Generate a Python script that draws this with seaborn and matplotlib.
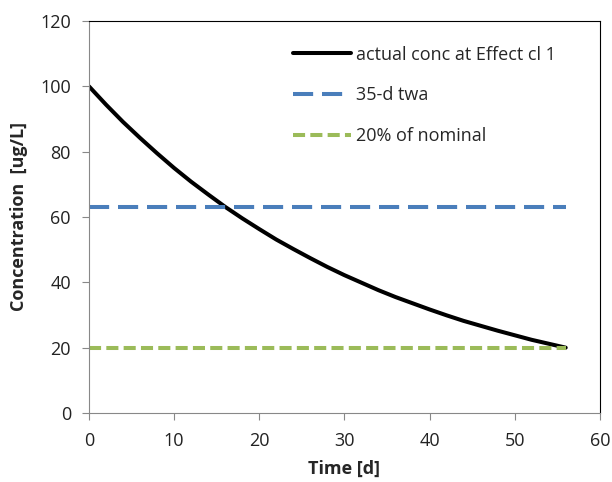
import matplotlib
matplotlib.use("Agg")
import matplotlib.pyplot as plt
import seaborn as sns
import pandas as pd

days = [0, 2, 4, 6, 8, 10, 12, 14, 16, 18, 20, 22, 24, 26, 28, 30, 32, 34, 36,
        38, 40, 42, 44, 46, 48, 50, 52, 54, 56]
conc = [100.0, 94.4, 89.1, 84.2, 79.5, 75.0, 70.8, 66.9, 63.1, 59.6, 56.3, 53.1,
        50.2, 47.4, 44.7, 42.2, 39.9, 37.6, 35.5, 33.6, 31.7, 29.9, 28.2, 26.7,
        25.2, 23.8, 22.4, 21.2, 20.0]
twa_days = [0, 56]
twa_value = [63.0, 63.0]
nominal20_days = [0, 56]
nominal20_value = [20.0, 20.0]

sns.set_style("white")
plt.rcParams['font.family'] = ['Open Sans', 'DejaVu Sans']

fig = plt.figure(figsize=(6.12, 4.82), dpi=100)
ax = fig.add_axes([0.1454, 0.1432, 0.8346, 0.8132])

df = pd.DataFrame({"t": days, "c": conc})
sns.lineplot(data=df, x="t", y="c", ax=ax, color="black", linewidth=2.9,
             label="actual conc at Effect cl 1")
sns.lineplot(x=twa_days, y=twa_value, ax=ax, color="#4a7ebb", linewidth=2.9,
             label="35-d twa")
ax.lines[-1].set_linestyle((0, (5, 2.2)))
sns.lineplot(x=nominal20_days, y=nominal20_value, ax=ax, color="#9bbb59",
             linewidth=2.9, label="20% of nominal")
ax.lines[-1].set_linestyle((0, (3, 1.3)))

ax.set_xlim(0, 60)
ax.set_ylim(0, 120)
ax.set_xticks(range(0, 61, 10))
ax.set_yticks(range(0, 121, 20))
ax.tick_params(axis='both', labelsize=13, length=5, direction='out', width=0.8)
ax.tick_params(axis='x', colors='#888888', labelcolor='#222222', pad=9)
ax.tick_params(axis='y', colors='#888888', labelcolor='#222222', pad=8)
ax.xaxis.set_ticks_position('bottom')
ax.yaxis.set_ticks_position('left')
for s in ['left', 'bottom']:
    ax.spines[s].set_color('#888888')
    ax.spines[s].set_linewidth(0.8)
for s in ['top', 'right']:
    ax.spines[s].set_color('#000000')
    ax.spines[s].set_linewidth(0.8)

ax.set_xlabel("Time [d]", fontsize=13, fontweight='bold', labelpad=7)
ax.set_ylabel("Concentration  [ug/L]", fontsize=13, fontweight='bold', labelpad=9)

leg = ax.legend(loc='upper left', frameon=False, fontsize=13, handlelength=3.2,
                labelspacing=1.25, handletextpad=0.3, borderpad=0, borderaxespad=0,
                bbox_to_anchor=(0.399, 0.937))

fig.savefig("out.png", dpi=100)
